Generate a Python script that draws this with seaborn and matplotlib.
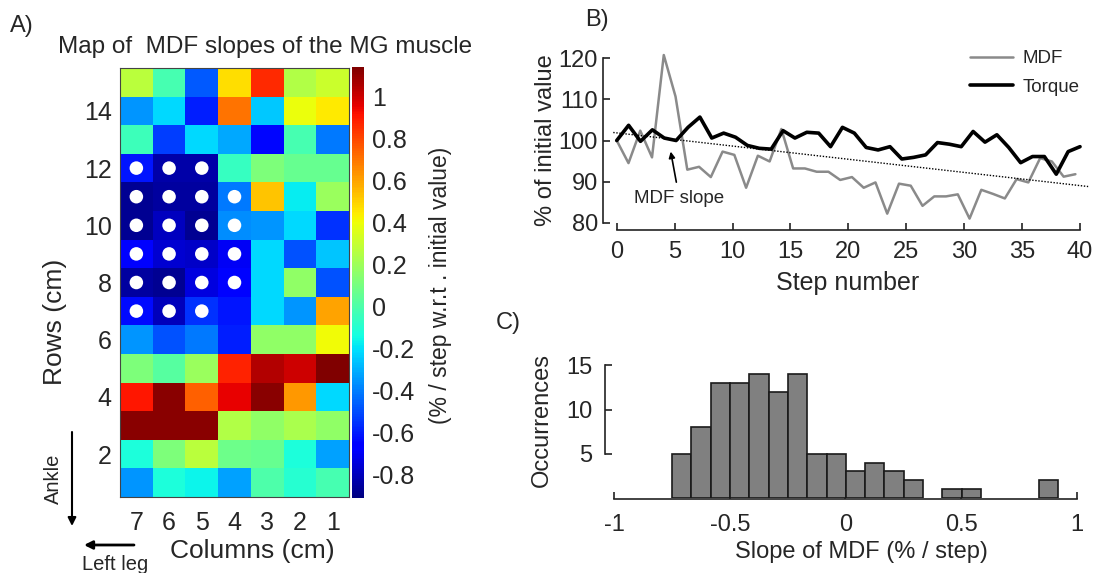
import numpy as np
import pandas as pd
import matplotlib
matplotlib.use("Agg")
import matplotlib.pyplot as plt
import seaborn as sns

# ---------------- data ----------------
col_labels = [7, 6, 5, 4, 3, 2, 1]
row_labels = list(range(15, 0, -1))  # top -> bottom
slope_map = [
    [0.27, -0.02, -0.47, 0.47, 0.86, 0.25, 0.31],    # row 15
    [-0.35, -0.22, -0.59, 0.70, -0.25, 0.39, 0.45],  # row 14
    [-0.04, -0.53, -0.22, -0.31, -0.64, -0.02, -0.41],  # row 13
    [-0.61, -0.83, -0.83, -0.06, 0.12, 0.06, 0.06],  # row 12
    [-0.87, -0.85, -0.85, -0.41, 0.53, -0.18, 0.19], # row 11
    [-0.87, -0.79, -0.87, -0.37, -0.35, -0.22, -0.55],  # row 10
    [-0.65, -0.76, -0.78, -0.70, -0.22, -0.49, -0.26],  # row 9
    [-0.85, -0.87, -0.74, -0.65, -0.22, 0.17, -0.49],   # row 8
    [-0.63, -0.80, -0.55, -0.61, -0.22, -0.35, 0.60],   # row 7
    [-0.35, -0.49, -0.41, -0.59, 0.17, 0.17, 0.41],     # row 6
    [0.12, 0.02, 0.19, 0.88, 1.05, 1.00, 1.14],         # row 5
    [0.90, 1.12, 0.74, 0.95, 1.12, 0.62, -0.22],        # row 4
    [1.12, 1.12, 1.12, 0.25, 0.17, 0.23, 0.17],         # row 3
    [-0.12, 0.12, 0.27, 0.08, 0.06, -0.12, -0.33],      # row 2
    [-0.35, -0.12, -0.16, -0.33, 0.00, -0.10, -0.02],   # row 1
]
# significant cells (white dots)
dot_rows = [12, 12, 12, 11, 11, 11, 11, 10, 10, 10, 10, 9, 9, 9, 9, 8, 8, 8, 8, 7, 7, 7]
dot_cols = [7, 6, 5, 7, 6, 5, 4, 7, 6, 5, 4, 7, 6, 5, 4, 7, 6, 5, 4, 7, 6, 5]
row_ticks = [14, 12, 10, 8, 6, 4, 2]
cbar_ticks = [-0.8, -0.6, -0.4, -0.2, 0, 0.2, 0.4, 0.6, 0.8, 1]
cbar_tick_labels = ["-0.8", "-0.6", "-0.4", "-0.2", "0", "0.2", "0.4", "0.6", "0.8", "1"]

mdf = [100, 94.5, 102.4, 95.9, 120.8, 110.7, 92.9, 93.6, 91.1, 97.3,
       96.5, 88.5, 96.3, 94.9, 102.8, 93.2, 93.2, 92.4, 92.4, 90.4,
       91.1, 88.5, 89.8, 82.2, 89.5, 89.0, 84.1, 86.4, 86.4, 86.9,
       81.0, 88.0, 87.0, 85.9, 90.6, 89.8, 95.7, 94.9, 91.2, 91.8]
torque = [100, 103.7, 99.8, 102.6, 100.6, 100.0, 103.2, 105.7, 100.6, 101.8,
          100.8, 98.8, 98.1, 97.9, 102.4, 100.6, 102.0, 101.8, 98.5, 103.2,
          101.8, 98.3, 97.7, 98.5, 95.5, 95.9, 96.5, 99.5, 99.1, 98.5,
          102.2, 99.6, 101.4, 98.3, 94.6, 96.1, 96.1, 91.8, 97.3, 98.5]
mdf_last_step = 39.6
torque_last_step = 40.0
slope_x = [-0.3, 40.7]
slope_y = [101.95, 88.8]

hist_edges_range = (-0.75, 0.92)
hist_counts = [5, 8, 13, 13, 14, 12, 14, 5, 5, 3, 4, 3, 2, 0, 1, 1, 0, 0, 0, 2]

# ---------------- style ----------------
sns.set_theme(style="white")
plt.rcParams["font.family"] = ["Liberation Sans", "DejaVu Sans"]
plt.rcParams["axes.unicode_minus"] = False

W, H = 1099, 573
fig = plt.figure(figsize=(W / 100, H / 100), dpi=100)
fs = 17

# ---------------- panel A ----------------
axA = fig.add_axes([120 / W, 1 - 497 / H, 229 / W, 429 / H])
cax = fig.add_axes([352 / W, 1 - 498 / H, 12 / W, 431 / H])
df = pd.DataFrame(slope_map, index=row_labels, columns=col_labels)
sns.heatmap(df, ax=axA, cmap="jet", vmin=-0.91, vmax=1.14, cbar_ax=cax,
            cbar_kws={"ticks": cbar_ticks}, xticklabels=True, yticklabels=False)
cbar = axA.collections[0].colorbar
# white dots
dx = [col_labels.index(c) + 0.5 for c in dot_cols]
dy = [row_labels.index(r) + 0.5 for r in dot_rows]
sns.scatterplot(x=dx, y=dy, ax=axA, color="white", s=95, edgecolor="none", zorder=5, legend=False)
axA.set_yticks([row_labels.index(r) + 0.5 for r in row_ticks])
axA.set_yticklabels([str(r) for r in row_ticks], rotation=0, fontsize=fs + 1)
axA.set_xticklabels([str(c) for c in col_labels], rotation=0, fontsize=fs + 1)
axA.set_xlabel("")
axA.set_ylabel("")
axA.tick_params(axis="both", direction="in", length=3, width=0.8, color="#333333",
                top=True, right=True, bottom=True, left=True)
axA.tick_params(axis="x", pad=10)
axA.tick_params(axis="y", pad=6)
for s in axA.spines.values():
    s.set_visible(True)
    s.set_color("#444444")
    s.set_linewidth(0.8)

cax.set_yticklabels(cbar_tick_labels, fontsize=fs + 1)
cax.tick_params(length=0, pad=6)
if cbar is not None:
    cbar.outline.set_visible(False)
for s in cax.spines.values():
    s.set_visible(False)

fig.text(265 / W, 1 - 47 / H, "Map of  MDF slopes of the MG muscle", ha="center", va="center", fontsize=fs + 0.5)
fig.text(22 / W, 1 - 26 / H, "A)", ha="center", va="center", fontsize=fs)
fig.text(55 / W, 1 - 322 / H, "Rows (cm)", rotation=90, ha="center", va="center", fontsize=fs + 2)
fig.text(252 / W, 1 - 551 / H, "Columns (cm)", ha="center", va="center", fontsize=fs + 2)
fig.text(441 / W, 1 - 285 / H, "(% / step w.r.t . initial value)", rotation=90,
         ha="center", va="center", fontsize=fs - 0.5)
fig.text(53 / W, 1 - 479 / H, "Ankle", rotation=90, ha="center", va="center", fontsize=14.5)
fig.text(82 / W, 1 - 565 / H, "Left leg", ha="left", va="center", fontsize=14.5)
axA.annotate("", xy=(72, H - 526), xytext=(72, H - 432), xycoords="figure pixels",
             textcoords="figure pixels",
             arrowprops=dict(arrowstyle="-|>", color="black", lw=1.5, shrinkA=0, shrinkB=0,
                             mutation_scale=12), annotation_clip=False)
axA.annotate("", xy=(84, H - 545), xytext=(134, H - 545), xycoords="figure pixels",
             textcoords="figure pixels",
             arrowprops=dict(arrowstyle="-|>", color="black", lw=2, shrinkA=0, shrinkB=0,
                             mutation_scale=12), annotation_clip=False)

# ---------------- panel B ----------------
axB = fig.add_axes([612.1 / W, 1 - 226.8 / H, 477.2 / W, 176.7 / H])
mdf_x = np.linspace(0, mdf_last_step, len(mdf))
torque_x = np.linspace(0, torque_last_step, len(torque))
sns.lineplot(x=mdf_x, y=mdf, ax=axB, color="#8a8a8a", lw=1.8, label="MDF")
sns.lineplot(x=torque_x, y=torque, ax=axB, color="black", lw=2.6, label="Torque")
axB.plot(slope_x, slope_y, color="black", lw=1.0, ls=(0, (1, 1.2)), clip_on=False)
axB.set_xlim(-0.4, 40.8)
axB.set_ylim(79, 122)
axB.set_xticks(range(0, 41, 5))
axB.set_yticks(range(80, 121, 10))
axB.tick_params(axis="both", direction="in", length=5, width=1.2, color="#222222", labelsize=fs,
                bottom=True, left=True)
axB.tick_params(axis="x", pad=8)
axB.tick_params(axis="y", pad=4)
axB.annotate("MDF slope", xy=(4.66, 97.3), xytext=(5.4, 86.0), ha="center", va="center",
             fontsize=13.5,
             arrowprops=dict(arrowstyle="-|>", color="black", lw=1.2, shrinkA=3, shrinkB=0,
                             mutation_scale=9))
axB.legend(loc="upper right", bbox_to_anchor=(1080 / W, 1 - 50 / H), bbox_transform=fig.transFigure,
           frameon=False, fontsize=13.5, handlelength=2.3, borderpad=0, borderaxespad=0,
           labelspacing=0.6, handletextpad=0.55)
sns.despine(ax=axB, trim=True, offset={"left": 6.2, "bottom": 2.3})
for s in ["left", "bottom"]:
    axB.spines[s].set_color("#222222")
    axB.spines[s].set_linewidth(1.2)
axB.set_xlabel("")
axB.set_ylabel("")
fig.text(848 / W, 1 - 283 / H, "Step number", ha="center", va="center", fontsize=fs + 1)
fig.text(546 / W, 1 - 140 / H, "% of initial value", rotation=90, ha="center", va="center", fontsize=fs)
fig.text(597 / W, 1 - 20 / H, "B)", ha="center", va="center", fontsize=fs)

# ---------------- panel C ----------------
axC = fig.add_axes([614.3 / W, 1 - 498 / H, 462.4 / W, 141.4 / H])
edges = np.linspace(hist_edges_range[0], hist_edges_range[1], len(hist_counts) + 1)
hist_df = pd.DataFrame({"slope": (edges[:-1] + edges[1:]) / 2, "count": hist_counts})
sns.histplot(data=hist_df, x="slope", weights="count", bins=list(edges), ax=axC, color="#808080",
             edgecolor="#1a1a1a", linewidth=1.2, alpha=1.0)
for p in axC.patches:
    if p.get_height() == 0:
        p.set_visible(False)
axC.set_xlim(-1, 1)
axC.set_ylim(0, 16)
axC.set_xticks([-1, -0.5, 0, 0.5, 1])
axC.set_xticklabels(["-1", "-0.5", "0", "0.5", "1"])
axC.set_yticks([5, 10, 15])
axC.tick_params(axis="both", direction="in", length=5, width=1.2, color="#222222", labelsize=fs,
                bottom=True, left=True)
axC.tick_params(axis="x", pad=11)
axC.tick_params(axis="y", pad=9)
sns.despine(ax=axC, trim=True, offset={"left": 6.7, "bottom": 0.7})
for s in ["left", "bottom"]:
    axC.spines[s].set_color("#222222")
    axC.spines[s].set_linewidth(1.2)
axC.set_xlabel("")
axC.set_ylabel("")
fig.text(861 / W, 1 - 552 / H, "Slope of MDF (% / step)", ha="center", va="center", fontsize=fs)
fig.text(542 / W, 1 - 420 / H, "Occurrences", rotation=90, ha="center", va="center", fontsize=fs)
fig.text(508 / W, 1 - 323 / H, "C)", ha="center", va="center", fontsize=fs)

fig.savefig("out.png", dpi=100)
